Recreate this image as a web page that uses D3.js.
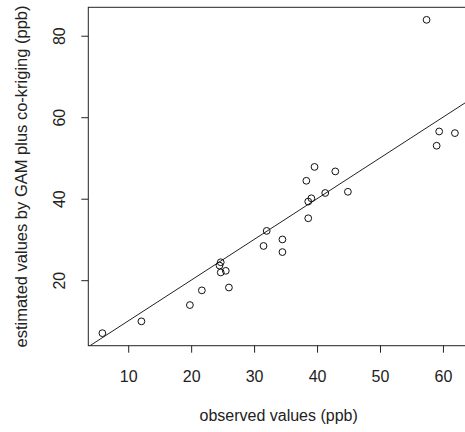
<!DOCTYPE html>
<html>
<head>
<meta charset="utf-8">
<script src="https://cdn.jsdelivr.net/npm/d3@7"></script>
<style>
  html, body { margin: 0; padding: 0; background: #fff; }
  svg { display: block; }
  text { font-family: "Liberation Sans", Arial, sans-serif; fill: #222; }
</style>
</head>
<body>
<svg id="chart" width="465" height="432"></svg>
<script>
// Observed ozone (ppb) and the GAM + co-kriging estimate at each site
const observed = [5.9, 12.1, 19.8, 21.7, 24.7, 24.5, 24.7, 25.5, 26.0, 31.5,
                  32.0, 34.5, 34.5, 38.3, 38.6, 38.6, 39.1, 39.6, 41.3, 42.9,
                  44.9, 59.0, 59.4, 61.9, 57.4];
const estimated = [7.0, 9.9, 13.9, 17.5, 24.4, 23.6, 21.9, 22.3, 18.2, 28.4,
                   32.1, 30.0, 26.9, 44.4, 35.2, 39.3, 40.1, 47.8, 41.4, 46.7,
                   41.7, 53.0, 56.5, 56.1, 83.9];
const xTicks = [10, 20, 30, 40, 50, 60];
const yTicks = [20, 40, 60, 80];

const points = observed.map((o, i) => ({ x: o, y: estimated[i] }));

// Plot region; the right edge sits just past the visible canvas
const plot = { left: 88.3, right: 469, top: 7.3, bottom: 345.7 };

// Axis limits padded by 4% of the data range on each side
function padded(vals) {
  const [lo, hi] = d3.extent(vals);
  const r = hi - lo;
  return [lo - 0.04 * r, hi + 0.04 * r];
}

const x = d3.scaleLinear().domain(padded(observed)).range([plot.left, plot.right]);
const y = d3.scaleLinear().domain(padded(estimated)).range([plot.bottom, plot.top]);

const svg = d3.select("#chart");

svg.append("clipPath").attr("id", "plot-clip")
  .append("rect")
  .attr("x", plot.left).attr("y", plot.top)
  .attr("width", plot.right - plot.left).attr("height", plot.bottom - plot.top);

// 1:1 reference line
const [dLo, dHi] = [Math.min(x.domain()[0], y.domain()[0]), Math.max(x.domain()[1], y.domain()[1])];
svg.append("line")
  .attr("clip-path", "url(#plot-clip)")
  .attr("x1", x(dLo)).attr("y1", y(dLo))
  .attr("x2", x(dHi)).attr("y2", y(dHi))
  .attr("stroke", "#222").attr("stroke-width", 1);

// Points
svg.append("g")
  .selectAll("circle")
  .data(points)
  .join("circle")
  .attr("cx", d => x(d.x))
  .attr("cy", d => y(d.y))
  .attr("r", 3.4)
  .attr("fill", "none")
  .attr("stroke", "#111")
  .attr("stroke-width", 1);

// Axes
const xAxis = svg.append("g")
  .attr("transform", `translate(0,${plot.bottom})`)
  .call(d3.axisBottom(x).tickValues(xTicks).tickSize(7).tickFormat(d3.format("d")));
xAxis.select(".domain").remove();
xAxis.selectAll(".tick line").attr("stroke", "#222");
xAxis.selectAll(".tick text")
  .attr("y", 36).attr("dy", null)
  .style("font-size", "16px")
  .style("font-family", "'Liberation Sans', Arial, sans-serif")
  .attr("fill", "#222");

const yAxis = svg.append("g")
  .attr("transform", `translate(${plot.left},0)`)
  .call(d3.axisLeft(y).tickValues(yTicks).tickSize(7).tickFormat(d3.format("d")));
yAxis.select(".domain").remove();
yAxis.selectAll(".tick line").attr("stroke", "#222");
yAxis.selectAll(".tick text")
  .attr("x", 0).attr("dy", null)
  .attr("y", -23)
  .attr("transform", "rotate(-90)")
  .attr("text-anchor", "middle")
  .style("font-size", "16px")
  .style("font-family", "'Liberation Sans', Arial, sans-serif")
  .attr("fill", "#222");

// Plot frame
svg.append("rect")
  .attr("x", plot.left).attr("y", plot.top)
  .attr("width", plot.right - plot.left).attr("height", plot.bottom - plot.top)
  .attr("fill", "none").attr("stroke", "#222").attr("stroke-width", 1);

// Axis titles
svg.append("text")
  .attr("x", (plot.left + plot.right) / 2)
  .attr("y", 421)
  .attr("text-anchor", "middle")
  .style("font-size", "16px")
  .text("observed values (ppb)");

svg.append("text")
  .attr("transform", `translate(26.5,${(plot.top + plot.bottom) / 2}) rotate(-90)`)
  .attr("text-anchor", "middle")
  .style("font-size", "16.5px")
  .text("estimated values by GAM plus co-kriging (ppb)");
</script>
</body>
</html>
